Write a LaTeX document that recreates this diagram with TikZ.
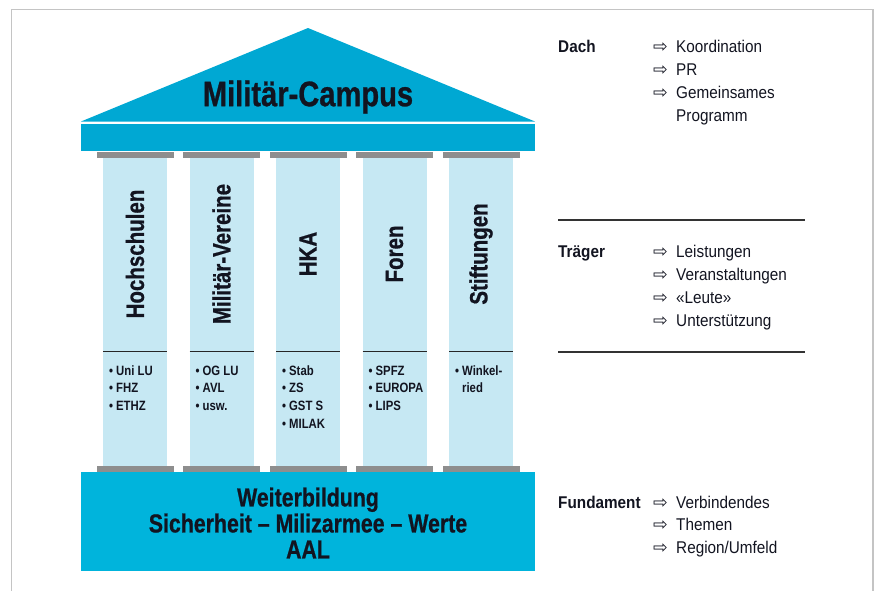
\documentclass[tikz,border=0pt]{standalone}
\usepackage{fontspec}
\setmainfont{Liberation Sans}[FakeStretch=0.84]
\newfontfamily\heavyfont{Liberation Sans Bold}[FakeStretch=0.82, FakeBold=0.7]
\newfontfamily\rightfont{Liberation Sans}[FakeStretch=0.9]
\newfontfamily\arrowfont{DejaVu Sans}
\definecolor{roofc}{HTML}{00A8D3}
\definecolor{foundc}{HTML}{00B4DC}
\definecolor{colc}{HTML}{C6E8F3}
\definecolor{capc}{HTML}{8E8E8E}
\definecolor{framec}{HTML}{C4C4C4}
\definecolor{inkc}{HTML}{121420}
\tikzset{
  capbox/.style={fill=capc, draw=none, inner sep=0pt, outer sep=0pt, minimum width=77pt, minimum height=6pt},
  colbox/.style={fill=colc, draw=none, inner sep=0pt, outer sep=0pt, minimum width=64pt, minimum height=308pt},
  collabel/.style={rotate=90, inner sep=0pt, text=inkc, font=\heavyfont\fontsize{25}{28}\selectfont},
  listitem/.style={anchor=base west, inner sep=0pt, text=inkc, font=\bfseries\fontsize{13.5}{16}\selectfont},
  sidehead/.style={anchor=base west, inner sep=0pt, text=inkc, font=\rightfont\bfseries\fontsize{17}{20}\selectfont},
  sideitem/.style={anchor=base west, inner sep=0pt, text=inkc, font=\rightfont\fontsize{17}{20}\selectfont},
  sidearrow/.style={anchor=base west, inner sep=0pt, text=inkc, font=\arrowfont\fontsize{17.5}{20}\selectfont},
  rule/.style={draw=black!80, line width=1.1pt}
}
\begin{document}
\begin{tikzpicture}[x=1pt, y=-1pt]
\useasboundingbox (0,0) rectangle (877,590);
% frame
\draw[framec, line width=1.6pt] (11.5,592) -- (11.5,9.5) -- (873,9.5) -- (873,592);
% roof
\fill[roofc] (81,121.5) -- (308,28) -- (535,121.5) -- cycle;
\node[fill=roofc, inner sep=0pt, outer sep=0pt, minimum width=454pt, minimum height=27pt, anchor=north west] (band) at (81,124) {};
\node[text=inkc, font=\heavyfont\fontsize{35.5}{40}\selectfont, inner sep=0pt] (title) at (308,97) {Militär-Campus};
% columns
\foreach \c [count=\i] in {135,221.5,308,394.5,481}{
  \node[capbox, anchor=north] (cap\i) at (\c,152) {};
  \node[colbox, anchor=north] (col\i) at (\c,158) {};
  \node[capbox, anchor=north] (base\i) at (\c,466) {};
  \draw[black!85, line width=1pt] (\c-32,351) -- (\c+32,351);
}
\node[collabel] (lab1) at (135,254) {Hochschulen};
\node[collabel] (lab2) at (221.5,254) {Militär-Vereine};
\node[collabel] (lab3) at (308,254) {HKA};
\node[collabel] (lab4) at (394.5,254) {Foren};
\node[collabel] (lab5) at (481,254) {Stiftungen};
% lists
\foreach \t [count=\k] in {Uni LU,FHZ,ETHZ}{
  \node[listitem] (la\k) at (109,375+17.7*\k-17.7) {•\hspace{3pt}\t};
}
\foreach \t [count=\k] in {OG LU,AVL,usw.}{
  \node[listitem] (lb\k) at (195.5,375+17.7*\k-17.7) {•\hspace{3pt}\t};
}
\foreach \t [count=\k] in {Stab,ZS,GST S,MILAK}{
  \node[listitem] (lc\k) at (282,375+17.7*\k-17.7) {•\hspace{3pt}\t};
}
\foreach \t [count=\k] in {SPFZ,EUROPA,LIPS}{
  \node[listitem] (ld\k) at (368.5,375+17.7*\k-17.7) {•\hspace{3pt}\t};
}
\node[listitem] (le1) at (455,375) {•\hspace{3pt}Winkel-};
\node[listitem] (le2) at (455,392.7) {\phantom{•}\hspace{3pt}ried};
% foundation
\node[fill=foundc, inner sep=0pt, outer sep=0pt, minimum width=454pt, minimum height=99pt, anchor=north west] (found) at (81,472) {};
\node[text=inkc, font=\heavyfont\fontsize{26}{26}\selectfont, align=center, inner sep=0pt] (ftext) at (308,523)
  {Weiterbildung\\Sicherheit – Milizarmee – Werte\\AAL};
% right side
\node[sidehead] (dach) at (558,52) {Dach};
\node[sidearrow] (da1) at (653,52) {⇨};
\node[sideitem] (di1) at (676,52) {Koordination};
\node[sidearrow] (da2) at (653,75) {⇨};
\node[sideitem] (di2) at (676,75) {PR};
\node[sidearrow] (da3) at (653,98) {⇨};
\node[sideitem] (di3) at (676,98) {Gemeinsames};
\node[sideitem] (di4) at (676,121) {Programm};
\coordinate (r1a) at (558,220);
\coordinate (r1b) at (805,220);
\draw[rule] (r1a) -- (r1b);
\node[sidehead] (traeger) at (558,257) {Träger};
\foreach \t [count=\k] in {Leistungen,Veranstaltungen,«Leute»,Unterstützung}{
  \node[sidearrow] (ta\k) at (653,257+23*\k-23) {⇨};
  \node[sideitem] (ti\k) at (676,257+23*\k-23) {\t};
}
\coordinate (r2a) at (558,352);
\coordinate (r2b) at (805,352);
\draw[rule] (r2a) -- (r2b);
\node[sidehead] (fund) at (558,508) {Fundament};
\foreach \t [count=\k] in {Verbindendes,Themen,Region/Umfeld}{
  \node[sidearrow] (fa\k) at (653,508+22.5*\k-22.5) {⇨};
  \node[sideitem] (fi\k) at (676,508+22.5*\k-22.5) {\t};
}
\end{tikzpicture}
\end{document}
